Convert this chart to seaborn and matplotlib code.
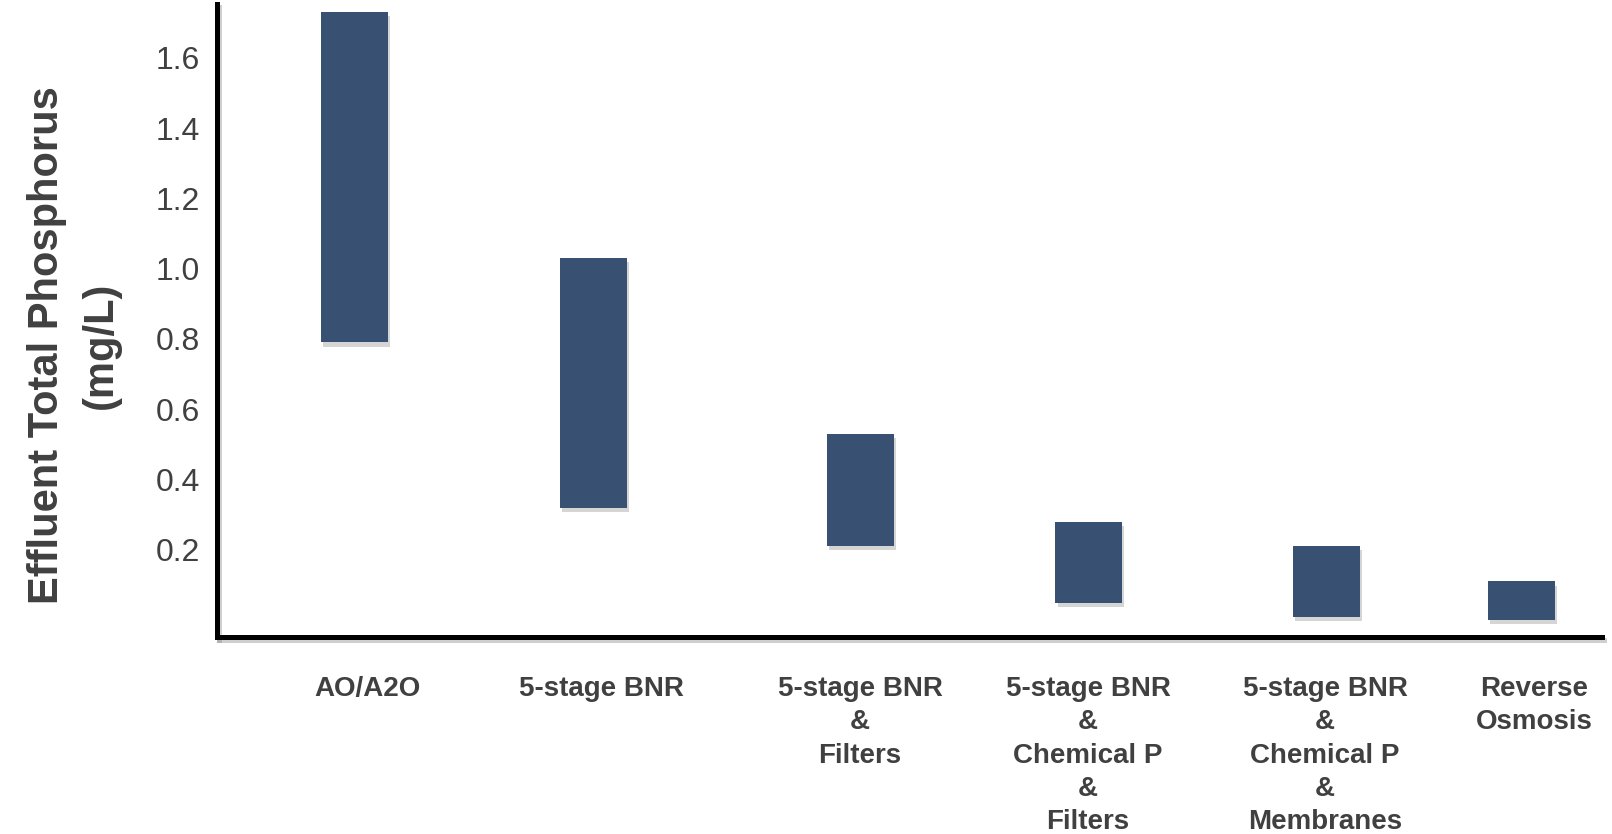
import numpy as np
import pandas as pd
import seaborn as sns
import matplotlib
matplotlib.use("Agg")
import matplotlib.pyplot as plt
import matplotlib.patheffects as pe

# ---- data ----
categories = [
    "AO/A2O",
    "5-stage BNR",
    "5-stage BNR\n&\nFilters",
    "5-stage BNR\n&\nChemical P\n&\nFilters",
    "5-stage BNR\n&\nChemical P\n&\nMembranes",
    "Reverse\nOsmosis",
]
low_values = [0.79, 0.32, 0.21, 0.05, 0.01, 0.0]
high_values = [1.73, 1.03, 0.53, 0.28, 0.21, 0.11]
ytick_values = [0.2, 0.4, 0.6, 0.8, 1.0, 1.2, 1.4, 1.6]
ytick_labels = ["0.2", "0.4", "0.6", "0.8", "1.0", "1.2", "1.4", "1.6"]
y_label = "Effluent Total Phosphorus\n(mg/L)"

# ---- layout (positions on the native x scale) ----
x_positions = [0.59, 1.614, 2.759, 3.739, 4.758, 5.592]
label_positions = [0.643, 1.647, 2.757, 3.735, 4.751, 5.648]
bar_width_units = 0.287

sns.set_theme(style="white")
plt.rcParams["font.family"] = ["Liberation Sans", "DejaVu Sans"]

df = pd.DataFrame({
    "pos": x_positions,
    "category": categories,
    "low": low_values,
    "high": high_values,
})
df["span"] = df["high"] - df["low"]

fig = plt.figure(figsize=(16.12, 8.34), dpi=100)
ax = fig.add_axes([217 / 1612, 197 / 834, (1602 - 217) / 1612, (830 - 197) / 834])

native_w = np.min(np.diff(sorted(x_positions)))
sns.barplot(
    data=df, x="pos", y="span", native_scale=True, errorbar=None,
    color="#385071", saturation=1, width=bar_width_units / native_w,
    bottom=df["low"].values, linewidth=0, ax=ax,
)

shadow = [pe.withSimplePatchShadow(offset=(1.5, -3), shadow_rgbFace="#777777", alpha=0.3)]
for p in ax.patches:
    p.set_path_effects(shadow)

ax.set_xlim(0, 5.939)
ax.set_ylim(-0.048, 1.753)

ax.set_xticks(label_positions)
ax.set_xticklabels(categories, fontsize=20, fontweight="bold", color="#404040",
                   linespacing=1.37)
ax.set_yticks(ytick_values)
ax.set_yticklabels(ytick_labels, fontsize=23, color="#404040")
ax.tick_params(axis="x", length=0, pad=28)
ax.tick_params(axis="y", length=0, pad=12)
ax.set_xlabel("")
ax.set_ylabel(y_label, fontsize=30, fontweight="bold", color="#404040", linespacing=1.45)
ax.yaxis.set_label_coords(-0.0693, 0.461)

for side in ["top", "right"]:
    ax.spines[side].set_visible(False)
line_shadow = [pe.SimpleLineShadow(offset=(1.5, -2), shadow_color="#888888", alpha=0.4), pe.Normal()]
for side in ["left", "bottom"]:
    ax.spines[side].set_color("black")
    ax.spines[side].set_linewidth(3.6)
    ax.spines[side].set_path_effects(line_shadow)
    ax.spines[side].set_capstyle("projecting")

ax.grid(False)
fig.savefig("out.png", dpi=100)
